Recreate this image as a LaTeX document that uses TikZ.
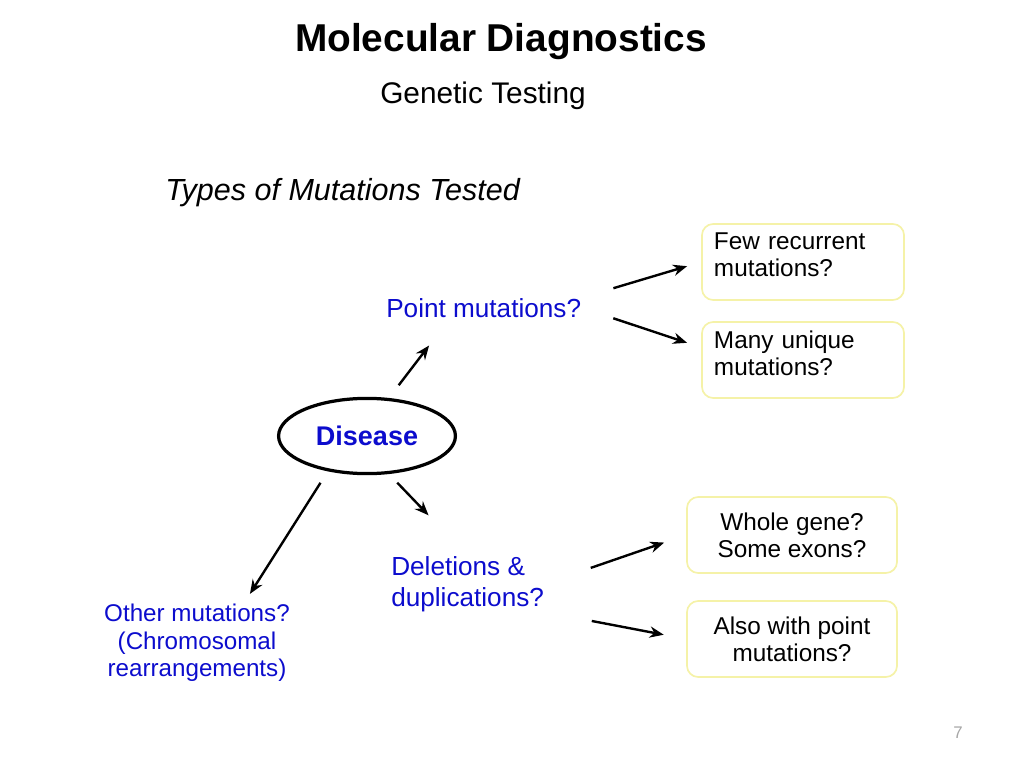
\documentclass[tikz,border=0pt]{standalone}
\usepackage{fontspec}
\setmainfont{Liberation Sans}
\usepackage{tikz}
\usetikzlibrary{arrows.meta}
\usetikzlibrary{shapes.geometric}
\usetikzlibrary{calc, positioning}
\definecolor{mutblue}{RGB}{12,12,205}
\definecolor{boxline}{RGB}{245,242,168}

\begin{document}
\begin{tikzpicture}[x=0.025cm, y=-0.025cm,
    arr/.style={-{Stealth[length=10pt,width=8pt]}, line width=1.7pt},
    qbox/.style={draw=boxline, line width=1.2pt, rounded corners=0.28cm, minimum height=1.9cm, font=\fontsize{17.3}{19.2}\selectfont},
    mtext/.style={text=mutblue, inner sep=0pt, font=\fontsize{18.6}{22}\selectfont}]
		\useasboundingbox (0,0) rectangle (1024,768);
		\node[anchor=base, font=\bfseries\fontsize{27.6}{30}\selectfont] (title) at (501,52) {Molecular Diagnostics};
		\node[anchor=base, font=\fontsize{21.2}{24}\selectfont] (sub) at (483,104) {Genetic Testing};
		\node[anchor=base west, inner sep=0pt, font=\itshape\fontsize{21.7}{24}\selectfont] (types) at (165,200) {Types of Mutations Tested};
		% Mitte
		\node[ellipse, draw, line width=2.3pt, minimum width=4.42cm, minimum height=1.88cm, text=mutblue, font=\bfseries\fontsize{19.2}{22}\selectfont] (dis) at (367,436) {Disease};
		\node[mtext, anchor=base west] (pm) at (386,317) {Point mutations?};
		\node[mtext, anchor=north west, align=left] (del) at (391,556) {Deletions \&\\duplications?};
		\node[mtext, anchor=north, align=center, font=\fontsize{17.2}{19.6}\selectfont] (oth) at (197,604) {Other mutations?\\(Chromosomal\\rearrangements)};
		% Kästen rechts
		\node[qbox, minimum width=5.05cm, text width=4.45cm, align=left] (few) at (803,262) {Few recurrent\\mutations?\rule[-10pt]{0pt}{0pt}};
		\node[qbox, minimum width=5.05cm, text width=4.45cm, align=left] (many) at (803,360) {Many unique\\mutations?\rule[-10pt]{0pt}{0pt}};
		\node[qbox, minimum width=5.25cm, align=center] (whole) at (792,535) {Whole gene?\\Some exons?};
		\node[qbox, minimum width=5.25cm, align=center] (also) at (792,639) {Also with point\\mutations?};
		\node[text=gray!70, font=\fontsize{12}{14}\selectfont] (pg) at (958,733) {7};
		% Pfeile
		\draw[arr, shorten <=0.3cm, shorten >=1.41cm] (dis.-60) -- (del.north);
		\draw[arr, shorten <=0.4cm, shorten >=0.88cm] (dis.60) -- ($(pm.south west)!0.33!(pm.south east)$);
		\draw[arr, shorten <=0.34cm, shorten >=0.3cm] (dis.-138) -- ($(oth.north west)!0.75!(oth.north east)$);
		\draw[arr, shorten <=0.835cm, shorten >=0.365cm] (pm.north east) -- (few.west);
		\draw[arr, shorten <=0.84cm, shorten >=0.37cm] (pm.east) -- (many.173);
		\draw[arr, shorten <=1.23cm, shorten >=0.58cm] (del.east) -- (whole.west);
		\draw[arr, shorten <=1.21cm, shorten >=0.57cm] (del.south east) -- (also.west);
\end{tikzpicture}
\end{document}
